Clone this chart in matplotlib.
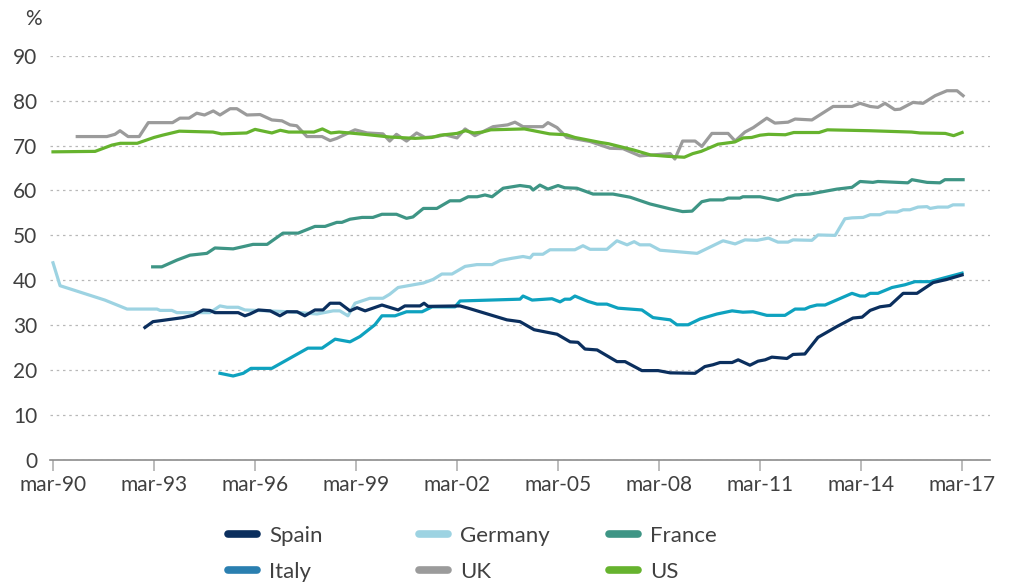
import numpy as np
import matplotlib
matplotlib.use("Agg")
import matplotlib.pyplot as plt
from matplotlib.lines import Line2D

plt.rcParams['font.family'] = ['Lato', 'DejaVu Sans']

# time in years after mar-90, values in %
spain_t = [2.73, 2.97, 3.18, 3.86, 4.16, 4.46, 4.66, 4.81, 5.5, 5.7, 5.85, 6.1, 6.45, 6.74, 6.95, 7.25,
           7.48, 7.78, 8.02, 8.23, 8.52, 8.82, 9.03, 9.27, 9.77, 10.25, 10.45, 10.9, 11.02, 11.14, 12.09,
           12.33, 13.48, 13.87, 14.29, 14.97, 15.36, 15.59, 15.8, 16.16, 16.75, 16.99, 17.49, 17.97, 18.33,
           19.07, 19.36, 19.6, 19.81, 20.17, 20.35, 20.7, 20.94, 21.15, 21.35, 21.8, 21.98, 22.33, 22.72,
           23.28, 23.76, 24.03, 24.27, 24.56, 24.86, 25.25, 25.66, 26.14, 26.55, 27.0]
spain_v = [29.5, 30.8, 31.0, 31.7, 32.2, 33.4, 33.3, 32.8, 32.8, 32.1, 32.5, 33.4, 33.2, 32.1, 33.0, 33.0,
           32.1, 33.4, 33.4, 34.9, 34.9, 33.2, 33.9, 33.2, 34.5, 33.4, 34.3, 34.3, 34.9, 34.2, 34.3,
           33.8, 31.2, 30.8, 29.0, 28.0, 26.3, 26.2, 24.7, 24.5, 21.9, 21.9, 19.9, 19.9, 19.4,
           19.3, 20.8, 21.2, 21.7, 21.7, 22.3, 21.1, 22.0, 22.3, 22.9, 22.6, 23.5, 23.6, 27.3,
           29.7, 31.6, 31.8, 33.3, 34.1, 34.4, 37.1, 37.1, 39.5, 40.2, 41.2]

germany_t = [0.0, 0.21, 1.54, 2.2, 3.09, 3.18, 3.53, 3.68, 4.66, 4.96, 5.17, 5.5, 5.7, 7.0, 7.84, 8.32,
             8.52, 8.76, 8.97, 9.41, 9.8, 10.0, 10.25, 11.0, 11.29, 11.55, 11.85, 12.24, 12.59, 13.04,
             13.28, 13.63, 13.96, 14.17, 14.26, 14.55, 14.76, 15.5, 15.74, 15.95, 16.45, 16.75, 17.05,
             17.26, 17.43, 17.73, 18.03, 19.13, 19.9, 20.26, 20.55, 20.91, 21.25, 21.53, 21.83, 21.98,
             22.54, 22.72, 23.23, 23.52, 23.73, 24.06, 24.27, 24.56, 24.77, 25.07, 25.25, 25.45, 25.69,
             25.96, 26.05, 26.28, 26.58, 26.73, 27.03]
germany_v = [43.9, 38.8, 35.6, 33.6, 33.6, 33.3, 33.3, 32.8, 32.8, 34.3, 34.0, 34.0, 33.4, 33.0, 32.5, 33.2,
             33.2, 32.1, 34.9, 36.0, 36.0, 36.9, 38.4, 39.4, 40.2, 41.4, 41.4, 43.1, 43.5, 43.5,
             44.4, 44.9, 45.3, 45.0, 45.8, 45.8, 46.8, 46.8, 47.7, 46.9, 46.9, 48.8, 47.9,
             48.6, 47.9, 47.9, 46.7, 46.0, 48.8, 48.1, 49.0, 48.9, 49.4, 48.5, 48.5, 49.0,
             48.9, 50.1, 50.0, 53.7, 53.9, 54.0, 54.6, 54.6, 55.2, 55.2, 55.7, 55.7, 56.3,
             56.4, 56.0, 56.3, 56.3, 56.8, 56.8]

france_t = [2.96, 3.23, 3.68, 4.07, 4.57, 4.81, 5.35, 5.65, 5.94, 6.36, 6.83, 7.28, 7.78, 8.08, 8.43,
            8.58, 8.82, 9.18, 9.5, 9.77, 10.2, 10.5, 10.69, 11.0, 11.4, 11.79, 12.09, 12.33, 12.6, 12.83,
            13.04, 13.37, 13.87, 14.17, 14.26, 14.46, 14.7, 15.0, 15.2, 15.56, 16.04, 16.63, 17.14, 17.73,
            18.33, 18.7, 18.98, 19.27, 19.51, 19.9, 20.05, 20.4, 20.49, 21.0, 21.53, 22.04, 22.48, 23.28,
            23.73, 23.97, 24.35, 24.5, 25.39, 25.51, 25.96, 26.34, 26.49, 27.03]
france_v = [43.0, 43.0, 44.5, 45.6, 46.0, 47.2, 47.0, 47.5, 48.0, 48.0, 50.5, 50.5, 52.0, 52.0, 52.9,
            52.9, 53.6, 54.0, 54.0, 54.7, 54.7, 53.8, 54.1, 56.0, 56.0, 57.7, 57.7, 58.6, 58.6, 59.0,
            58.6, 60.5, 61.1, 60.8, 60.1, 61.2, 60.3, 61.1, 60.6, 60.5, 59.2, 59.2, 58.5, 57.0,
            55.9, 55.3, 55.4, 57.5, 57.9, 57.9, 58.3, 58.3, 58.6, 58.6, 57.8, 59.0, 59.2, 60.3,
            60.7, 62.0, 61.8, 62.0, 61.7, 62.4, 61.8, 61.7, 62.4, 62.4]

italy_t = [4.96, 5.35, 5.65, 5.88, 6.5, 7.57, 7.99, 8.38, 8.6, 8.82, 9.12, 9.56, 9.77, 10.16, 10.5,
           10.96, 11.26, 11.94, 12.09, 13.87, 13.96, 14.23, 14.82, 15.06, 15.2, 15.36, 15.5, 15.89,
           16.16, 16.45, 16.78, 17.49, 17.82, 18.33, 18.53, 18.86, 19.22, 19.72, 20.17, 20.49, 20.79,
           21.2, 21.74, 22.04, 22.33, 22.48, 22.69, 22.93, 23.73, 23.97, 24.12, 24.27, 24.5, 24.92,
           25.3, 25.6, 26.05, 27.0]
italy_v = [19.3, 18.7, 19.3, 20.4, 20.4, 24.9, 24.9, 26.9, 26.6, 26.3, 27.5, 30.1, 32.1, 32.1, 33.0,
           33.0, 34.1, 34.1, 35.4, 35.8, 36.5, 35.6, 35.9, 35.2, 35.8, 35.8, 36.5, 35.3,
           34.7, 34.7, 33.8, 33.4, 31.7, 31.2, 30.1, 30.1, 31.4, 32.5, 33.2, 32.9, 33.0,
           32.2, 32.2, 33.6, 33.6, 34.1, 34.5, 34.5, 37.1, 36.5, 36.5, 37.1, 37.1, 38.4,
           39.0, 39.7, 39.7, 41.6]

uk_t = [0.72, 1.6, 1.84, 1.99, 2.23, 2.56, 2.83, 3.55, 3.77, 4.04, 4.27, 4.5, 4.76, 4.96, 5.26, 5.46,
        5.76, 6.15, 6.5, 6.8, 7.04, 7.24, 7.54, 7.99, 8.23, 8.43, 8.97, 9.33, 9.8, 10.0, 10.2, 10.5,
        10.8, 11.05, 11.4, 11.64, 12.0, 12.24, 12.53, 13.07, 13.5, 13.72, 13.96, 14.55, 14.7, 14.97,
        15.26, 15.95, 16.54, 16.93, 17.43, 18.33, 18.47, 18.7, 19.07, 19.27, 19.57, 20.05, 20.26,
        20.55, 20.8, 21.2, 21.44, 21.83, 22.04, 22.54, 23.17, 23.73, 23.97, 24.27, 24.5, 24.71, 25.0,
        25.16, 25.54, 25.84, 26.2, 26.55, 26.85, 27.03]
uk_v = [72.0, 72.0, 72.5, 73.3, 72.0, 72.0, 75.1, 75.1, 76.1, 76.1, 77.2, 76.8, 77.7, 76.8, 78.2, 78.2,
        76.8, 76.9, 75.7, 75.5, 74.6, 74.4, 72.0, 72.0, 71.1, 71.6, 73.5, 72.8, 72.6, 71.0, 72.5, 71.0,
        72.8, 71.8, 72.0, 72.4, 71.7, 73.7, 72.2, 74.2, 74.6, 75.2, 74.2, 74.2, 75.1, 74.0,
        71.8, 70.9, 69.4, 69.3, 67.7, 68.2, 67.0, 71.0, 71.0, 69.8, 72.7, 72.7, 71.0,
        73.0, 74.0, 76.1, 75.0, 75.2, 75.9, 75.7, 78.7, 78.7, 79.4, 78.7, 78.5, 79.4, 78.0,
        78.1, 79.6, 79.4, 81.1, 82.2, 82.2, 81.1]

us_t = [0.0, 1.25, 1.75, 2.0, 2.5, 3.0, 3.25, 3.75, 4.75, 5.0, 5.75, 6.0, 6.5, 6.75, 7.0, 7.75, 8.0,
        8.25, 8.5, 9.25, 10.0, 10.75, 11.25, 11.5, 12.0, 12.25, 12.5, 12.75, 13.0, 14.0, 14.75, 15.25,
        15.5, 16.25, 16.5, 17.25, 17.75, 18.25, 18.75, 19.0, 19.25, 19.75, 20.25, 20.5, 20.75, 21.0,
        21.25, 21.75, 22.0, 22.75, 23.0, 24.25, 25.5, 25.75, 26.5, 26.75, 27.0]
us_v = [68.6, 68.7, 70.1, 70.5, 70.5, 71.8, 72.3, 73.2, 73.0, 72.6, 72.8, 73.6, 72.8, 73.4, 73.0, 73.0, 73.7,
        72.8, 73.0, 72.5, 71.9, 71.6, 71.8, 72.3, 72.7, 73.3, 72.8, 73.0, 73.5, 73.7, 72.6, 72.4,
        71.8, 70.7, 70.4, 69.0, 67.9, 67.6, 67.4, 68.2, 68.7, 70.3, 70.8, 71.7, 71.8, 72.3,
        72.5, 72.4, 72.9, 72.9, 73.5, 73.3, 73.0, 72.8, 72.7, 72.2, 72.9]

tick_years = list(range(0, 28, 3))
tick_labels = ["mar-%02d" % ((90 + y) % 100) for y in tick_years]

c_spain = "#0b2f5e"
c_germany = "#9dd3e2"
c_france = "#3e9585"
c_italy = "#0ea2bf"
c_italy_leg = "#2a7fb0"
c_uk = "#9b9b9b"
c_us = "#66b32e"
txt = "#404040"

fig = plt.figure(figsize=(10.13, 5.85), dpi=100)
ax = fig.add_axes([50 / 1013, 1 - 460 / 585, 940 / 1013, (460 - 55.7) / 585])

lw = 2.3
ax.plot(germany_t, germany_v, color=c_germany, lw=lw)
ax.plot(uk_t, uk_v, color=c_uk, lw=lw)
ax.plot(france_t, france_v, color=c_france, lw=lw)
ax.plot(us_t, us_v, color=c_us, lw=lw)
ax.plot(italy_t, italy_v, color=c_italy, lw=lw)
ax.plot(spain_t, spain_v, color=c_spain, lw=lw)

ax.set_xlim(-3 / 33.67, 937 / 33.67)
ax.set_ylim(0, 90)
ax.set_yticks(range(0, 91, 10))
ax.set_xticks(tick_years)
ax.set_xticklabels(tick_labels)
ax.grid(axis='y', linestyle=(0, (2, 3)), color='#b8b8b8', lw=0.9)
ax.set_axisbelow(True)
for s in ['top', 'right', 'left']:
    ax.spines[s].set_visible(False)
ax.spines['bottom'].set_color('#8c8c8c')
ax.spines['bottom'].set_linewidth(1.2)
ax.tick_params(axis='y', length=0, pad=9, labelsize=15, labelcolor=txt)
ax.tick_params(axis='x', length=8, width=1.2, color='#b0b0b0', pad=3, labelsize=15, labelcolor=txt)
fig.text(33 / 1013, 1 - 19 / 585, "%", ha='center', va='center', fontsize=15, color=txt)

# legend: three columns placed by hand
groups = [[("Spain", c_spain), ("Italy", c_italy_leg)],
          [("Germany", c_germany), ("UK", c_uk)],
          [("France", c_france), ("US", c_us)]]
xs = [228, 419, 609]
for x0, grp in zip(xs, groups):
    handles = [Line2D([], [], color=c, lw=5.5, solid_capstyle='round') for _, c in grp]
    leg = fig.legend(handles, [n for n, _ in grp], loc='upper left',
                     bbox_to_anchor=(x0 / 1013, 1 - 526 / 585), frameon=False,
                     fontsize=16, handlelength=1.3, handletextpad=0.55, labelspacing=0.72,
                     borderaxespad=0, borderpad=0)
    for t in leg.get_texts():
        t.set_color(txt)

fig.savefig("out.png", dpi=100)
